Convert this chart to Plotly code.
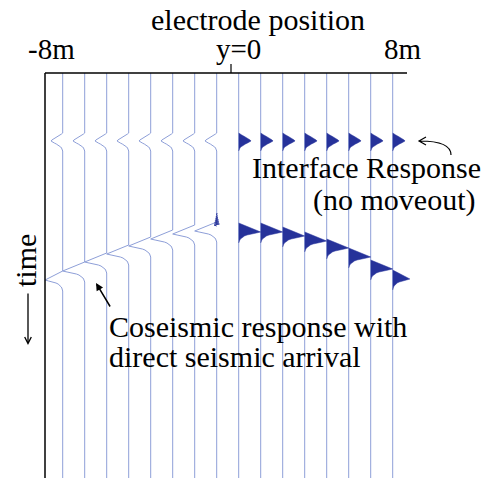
import plotly.graph_objects as go

# Electrode positions (m) and arrival times (ms) of the two responses
positions = [-7.5, -6.5, -5.5, -4.5, -3.5, -2.5, -1.5, -0.5,
             0.5, 1.5, 2.5, 3.5, 4.5, 5.5, 6.5, 7.5]
interface_time = [15.0] * 16
interface_amp = [-0.53] * 8 + [0.56] * 8
coseismic_time = [49.5, 47.25, 45.0, 43.0, 41.0, 39.25, 38.0, 37.25,
                  37.5, 37.5, 38.5, 39.75, 41.5, 43.75, 46.75, 49.25]
coseismic_amp = [-0.8, -1.0, -1.0, -1.0, -1.0, -1.0, -1.0, -1.0,
                 1.0, 1.0, 1.0, 1.0, 1.0, 1.0, 1.0, 0.78]

# Normalised wavelet samples, one every 0.25 ms
interface_wavelet = [0, 0.1, 0.25, 0.4, 0.55, 0.7, 0.82, 0.93, 1.0, 0.9,
                     0.72, 0.55, 0.4, 0.27, 0.17, 0.1, 0.05, 0.02, 0]
coseismic_wavelet = [0, 0.12, 0.24, 0.36, 0.48, 0.6, 0.71, 0.82, 0.92, 1.0,
                     0.8, 0.55, 0.38, 0.26, 0.18, 0.12, 0.08, 0.05, 0.03,
                     0.015, 0]

# small numerical ringing just ahead of the arrival on the trace at -0.5 m
precursor_time = 35.0
precursor = [0.0, 0.02, -0.02, 0.04, -0.04, 0.06, -0.06, 0.08, -0.08,
             0.1, -0.1, 0.12, -0.12, 0.0]

DT = 0.25
T_END = 101.25

tick_labels = ["-8m", "y=0", "8m"]

LINE = "#8e9fd8"
FILL = "#26329a"
FONT = "'Liberation Serif', 'Times New Roman', Times, serif"

# pixel <-> data helpers for layout decorations
W, H = 484, 478


def xd(px):
    return (px - 227.7) / 22.0


def td(py):
    return (py - 73.0) / 4.0


def wavelet_points(x0, t0, amp, w):
    xs = [x0 + amp * v for v in w]
    ts = [t0 + i * DT for i in range(len(w))]
    return xs, ts


fig = go.Figure()

# wiggle traces
for k, x0 in enumerate(positions):
    xi, ti = wavelet_points(x0, interface_time[k], interface_amp[k], interface_wavelet)
    xc, tc = wavelet_points(x0, coseismic_time[k], coseismic_amp[k], coseismic_wavelet)
    if x0 < 0:
        xs = [x0] + xi + xc + [x0]
        ts = [0] + ti + tc + [T_END]
    else:
        xs = [x0, x0]
        ts = [0, T_END]
    fig.add_trace(go.Scatter(x=xs, y=ts, mode="lines",
                             line=dict(color=LINE, width=1),
                             hoverinfo="skip", showlegend=False))

# ringing on the trace nearest the source, left side
k_near = positions.index(-0.5)
xp, tp = wavelet_points(positions[k_near], precursor_time, 1.0, precursor)
fig.add_trace(go.Scatter(x=xp, y=tp, mode="lines",
                         line=dict(color=FILL, width=1),
                         hoverinfo="skip", showlegend=False))

# filled positive lobes
for k, x0 in enumerate(positions):
    if x0 < 0:
        continue
    for t0, a, w in ((interface_time[k], interface_amp[k], interface_wavelet),
                     (coseismic_time[k], coseismic_amp[k], coseismic_wavelet)):
        xs, ts = wavelet_points(x0, t0, a, w)
        fig.add_trace(go.Scatter(x=[x0] + xs + [x0], y=[t0] + ts + [ts[-1]],
                                 mode="lines", fill="toself", fillcolor=FILL,
                                 line=dict(color=FILL, width=0.5),
                                 hoverinfo="skip", showlegend=False))

# frame lines
fig.add_shape(type="line", x0=xd(45), x1=xd(407), y0=0, y1=0,
              line=dict(color="black", width=1.5))
fig.add_shape(type="line", x0=xd(45), x1=xd(45), y0=0, y1=T_END,
              line=dict(color="black", width=1.5))
fig.add_shape(type="line", x0=xd(231), x1=xd(231), y0=td(64), y1=0,
              line=dict(color="black", width=1.2))


def label(text, x, y, size=30, xanchor="center", angle=0):
    fig.add_annotation(x=xd(x), y=td(y), text=text, showarrow=False,
                       xanchor=xanchor, yanchor="middle", textangle=angle,
                       font=dict(family=FONT, size=size, color="black"))


label("electrode position", 258, 19, size=30)
label(tick_labels[0], 51, 49, size=29)
label(tick_labels[1], 238, 49, size=29)
label(tick_labels[2], 403, 49, size=29)
label("Interface Response", 250, 167, xanchor="left")
label("(no moveout)", 311, 200, xanchor="left")
label("Coseismic response with", 107, 326, xanchor="left")
label("direct seismic arrival", 107, 356, xanchor="left")
label("time", 25, 261, angle=-90)

# arrows
fig.add_annotation(x=xd(28), y=td(345), ax=xd(28), ay=td(292),
                   xref="x", yref="y", axref="x", ayref="y", text="",
                   showarrow=True, arrowhead=5, arrowsize=1, arrowwidth=1.3,
                   arrowcolor="black")
fig.add_annotation(x=xd(96), y=td(283), ax=xd(111), ay=td(308),
                   xref="x", yref="y", axref="x", ayref="y", text="",
                   showarrow=True, arrowhead=2, arrowsize=1, arrowwidth=1.5,
                   arrowcolor="black")
fig.add_shape(type="path",
              path=(f"M {xd(451)},{td(155)} Q {xd(451)},{td(141)} {xd(420)},{td(141)}"
                    f" M {xd(426)},{td(137)} L {xd(419)},{td(141)} L {xd(426)},{td(145)}"),
              line=dict(color="black", width=1.2))

fig.update_layout(
    width=W, height=H, margin=dict(l=0, r=0, t=0, b=0),
    paper_bgcolor="white", plot_bgcolor="white",
    xaxis=dict(range=[xd(0), xd(W)], visible=False, fixedrange=True),
    yaxis=dict(range=[td(H), td(0)], visible=False, fixedrange=True),
)

fig.write_html("out.html")
